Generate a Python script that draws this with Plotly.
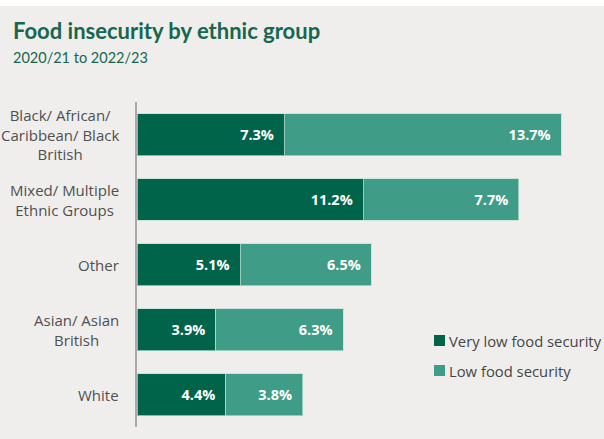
import plotly.graph_objects as go

# Chart data
categories = [
    "Black/ African/<br>Caribbean/ Black<br>British",
    "Mixed/ Multiple<br>Ethnic Groups",
    "Other",
    "Asian/ Asian<br>British",
    "White",
]
very_low = [7.3, 11.2, 5.1, 3.9, 4.4]
low = [13.7, 7.7, 6.5, 6.3, 3.8]
series_names = ["Very low food security", "Low food security"]

DARK = "#00644a"
LIGHT = "#3f9c86"
TITLE_GREEN = "#17664f"
BG = "#efeeec"

W, H = 604, 439
L, R, T, B = 137, 2, 102, 12
plot_w = W - L - R
plot_h = H - T - B


def px_x(x):
    return (x - L) / plot_w


def px_y(y):
    return (H - B - y) / plot_h


fig = go.Figure()
for name, vals, col in [(series_names[0], very_low, DARK), (series_names[1], low, LIGHT)]:
    fig.add_trace(go.Bar(
        y=list(range(len(categories))),
        x=vals,
        orientation="h",
        name=name,
        marker=dict(color=col, line=dict(color="rgba(190,225,212,0.7)", width=1)),
        texttemplate="%{x:.1f}%\u00a0\u00a0",
        textposition="inside",
        insidetextanchor="end",
        textangle=0,
        insidetextfont=dict(family="Open Sans", size=14.5, color="white", weight="bold"),
        showlegend=False,
        hoverinfo="skip",
    ))

annotations = []
# Category labels, centred lines, right edge near the axis
for i, cat in enumerate(categories):
    annotations.append(dict(
        text=cat, xref="paper", yref="y", x=px_x(121), y=i,
        xanchor="right", yanchor="middle", align="center", showarrow=False,
        font=dict(family="Open Sans", size=15, color="#505050"),
    ))

# Title and subtitle
annotations.append(dict(
    text="<b>Food insecurity by ethnic group</b>", xref="paper", yref="paper",
    x=px_x(11), y=px_y(30), xanchor="left", yanchor="middle", showarrow=False,
    font=dict(family="Lato", size=22, color=TITLE_GREEN),
))
annotations.append(dict(
    text="2020/21 to 2022/23", xref="paper", yref="paper",
    x=px_x(11), y=px_y(58), xanchor="left", yanchor="middle", showarrow=False,
    font=dict(family="Lato", size=14.5, color=TITLE_GREEN),
))

shapes = [
    # white strip along the top edge
    dict(type="rect", xref="paper", yref="paper", x0=px_x(0), x1=px_x(W),
         y0=px_y(0), y1=px_y(6), fillcolor="white", line=dict(width=0), layer="below"),
]

# Legend keys
legend_y = [340.5, 370.5]
for name, col, yc in zip(series_names, [DARK, LIGHT], legend_y):
    shapes.append(dict(type="rect", xref="paper", yref="paper",
                       x0=px_x(434), x1=px_x(445), y0=px_y(yc - 5.5), y1=px_y(yc + 5.5),
                       fillcolor=col, line=dict(width=0)))
    annotations.append(dict(
        text=name, xref="paper", yref="paper", x=px_x(447), y=px_y(yc),
        xanchor="left", yanchor="middle", showarrow=False,
        font=dict(family="Open Sans", size=14.8, color="#454545"),
    ))

fig.update_layout(
    width=W, height=H,
    margin=dict(l=L, r=R, t=T, b=B, pad=0),
    paper_bgcolor=BG, plot_bgcolor=BG,
    barmode="stack", bargap=0.354,
    xaxis=dict(range=[0, plot_w / 20.2], visible=False, fixedrange=True),
    yaxis=dict(range=[len(categories) - 0.5, -0.5], showticklabels=False,
               showgrid=False, zeroline=False, ticks="",
               showline=True, linecolor="#ababab", linewidth=1.5, fixedrange=True),
    annotations=annotations,
    shapes=shapes,
    showlegend=False,
)

fig.write_html("out.html")
